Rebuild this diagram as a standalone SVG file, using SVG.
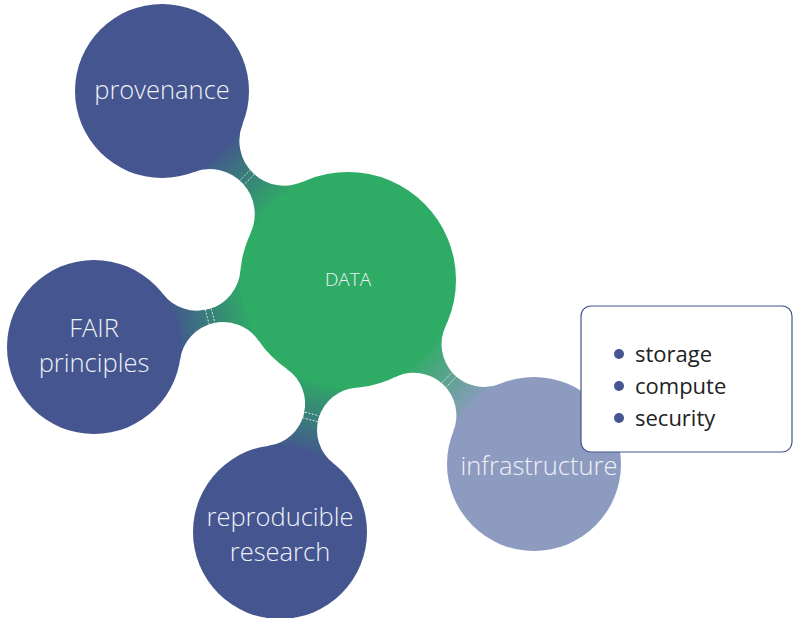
<svg xmlns="http://www.w3.org/2000/svg" width="793" height="618" viewBox="0 0 793 618">
  <style>
    .topic { fill: #44558f; }
    .topic-muted { fill: #8e9bc0; }
    .core { fill: #2eac65; }
    .label { font-family: "Open Sans", "Noto Sans", "DejaVu Sans", sans-serif; font-weight: 300; fill: #eef1f8; text-anchor: middle; dominant-baseline: central; }
    .big { font-size: 25.5px; }
    .core-label { font-size: 19px; }
    .neck-mark { fill: none; stroke: #ffffff; stroke-opacity: 0.8; stroke-width: 0.9; stroke-dasharray: 2 1.5; }
    .callout { fill: #ffffff; stroke: #44558f; stroke-width: 1.2; }
    .bullet { fill: #44558f; }
    .item { font-family: "Open Sans", "Noto Sans", "DejaVu Sans", sans-serif; font-size: 22px; fill: #222222; dominant-baseline: central; }
  </style>
  <defs>
    <linearGradient id="g-prov" gradientUnits="userSpaceOnUse" x1="79.9" y1="0" x2="163.6" y2="0">
      <stop offset="0" stop-color="#44558f"/>
      <stop offset="1" stop-color="#2eac65"/>
    </linearGradient>
    <linearGradient id="g-fair" gradientUnits="userSpaceOnUse" x1="80.1" y1="0" x2="161" y2="0">
      <stop offset="0" stop-color="#44558f"/>
      <stop offset="1" stop-color="#2eac65"/>
    </linearGradient>
    <linearGradient id="g-repr" gradientUnits="userSpaceOnUse" x1="80.3" y1="0" x2="159.1" y2="0">
      <stop offset="0" stop-color="#44558f"/>
      <stop offset="1" stop-color="#2eac65"/>
    </linearGradient>
    <linearGradient id="g-infra" gradientUnits="userSpaceOnUse" x1="80.3" y1="0" x2="159.8" y2="0">
      <stop offset="0" stop-color="#8e9bc0"/>
      <stop offset="1" stop-color="#2eac65"/>
    </linearGradient>
  </defs>

  <!-- organic necks joining each topic to the core; local frame: x runs from topic centre to core centre -->
  <g id="connectors">
    <g transform="translate(162 91) rotate(45.46)">
      <path fill="url(#g-prov)" d="M79.9 34.6 A45 45 0 0 1 163.6 37.1 L200 0 L163.6 -37.1 A45 45 0 0 1 79.9 -34.6 L40 0 Z"/>
    </g>
    <g transform="translate(94 347) rotate(-14.78)">
      <path fill="url(#g-fair)" d="M80.1 34 A43.4 43.4 0 0 1 161 36.3 L200 0 L161 -36.3 A43.4 43.4 0 0 1 80.1 -34 L40 0 Z"/>
    </g>
    <g transform="translate(280 532) rotate(-74.9)">
      <path fill="url(#g-repr)" d="M80.3 33.5 A42.3 42.3 0 0 1 159.1 35.8 L200 0 L159.1 -35.8 A42.3 42.3 0 0 1 80.3 -33.5 L40 0 Z"/>
    </g>
    <g transform="translate(534 464) rotate(-135.3)">
      <path fill="url(#g-infra)" d="M80.3 33.6 A42.6 42.6 0 0 1 159.8 35.9 L200 0 L159.8 -35.9 A42.6 42.6 0 0 1 80.3 -33.6 L40 0 Z"/>
    </g>
  </g>

  <g id="node-data">
    <circle class="core" cx="348" cy="280" r="108"/>
    <text class="label core-label" x="348" y="279">DATA</text>
  </g>

  <g id="node-provenance">
    <circle class="topic" cx="162" cy="91" r="87"/>
    <text class="label big" x="162" y="89">provenance</text>
  </g>

  <g id="node-fair">
    <circle class="topic" cx="94" cy="347" r="87"/>
    <text class="label big" x="94" y="327">FAIR</text>
    <text class="label big" x="94" y="362">principles</text>
  </g>

  <g id="node-reproducible">
    <circle class="topic" cx="280" cy="532" r="87"/>
    <text class="label big" x="280" y="516">reproducible</text>
    <text class="label big" x="280" y="551">research</text>
  </g>

  <g id="node-infrastructure">
    <circle class="topic-muted" cx="534" cy="464" r="87"/>
    <text class="label big" x="539" y="465">infrastructure</text>
  </g>

  <!-- dashed handles across each neck -->
  <g id="neck-marks">
    <rect class="neck-mark" x="118.3" y="-8" width="6" height="16" transform="translate(162 91) rotate(45.46)"/>
    <rect class="neck-mark" x="117.1" y="-8" width="6" height="16" transform="translate(94 347) rotate(-14.78)"/>
    <rect class="neck-mark" x="116.3" y="-8" width="6" height="16" transform="translate(280 532) rotate(-74.9)"/>
    <rect class="neck-mark" x="116.6" y="-8" width="6" height="16" transform="translate(534 464) rotate(-135.3)"/>
  </g>

  <g id="infrastructure-notes">
    <rect class="callout" x="581" y="306" width="211" height="146" rx="10" ry="10"/>
    <circle class="bullet" cx="619" cy="354" r="5"/>
    <text class="item" x="635" y="353">storage</text>
    <circle class="bullet" cx="619" cy="386" r="5"/>
    <text class="item" x="635" y="385">compute</text>
    <circle class="bullet" cx="619" cy="418" r="5"/>
    <text class="item" x="635" y="417">security</text>
  </g>
</svg>
